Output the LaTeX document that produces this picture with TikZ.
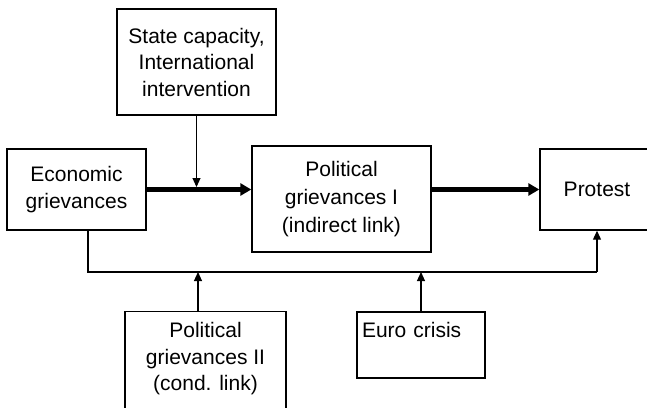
\documentclass[tikz,border=0pt]{standalone}
\usepackage{fontspec}
\setmainfont{Liberation Sans}
\usepackage{tikz}
\usetikzlibrary{arrows.meta, positioning, calc}

\begin{document}
\begin{tikzpicture}[
    x=1pt, y=-1pt,
    box/.style={draw, rectangle, line width=1.4pt, inner sep=5pt, align=center,
      font=\fontsize{21}{26.5}\selectfont},
    mainarrow/.style={line width=4.5pt, -{Triangle[length=11pt,width=12pt]}},
    thinarrow/.style={line width=1.1pt, -{Triangle[length=9pt,width=8pt]}},
    thinline/.style={line width=1.1pt}
]
\useasboundingbox (0,0) rectangle (647,407);
\clip (0,0) rectangle (647,407);

\node[box, minimum width=159pt, minimum height=106pt] (state) at (196.5,62)
  {State capacity,\\International\\intervention};
\node[box, minimum width=139pt, minimum height=81pt] (econ) at (76.5,189.5)
  {Economic\\grievances};
\node[box, minimum width=179pt, minimum height=106pt, font=\fontsize{21}{28}\selectfont]
  (pol1) at (341.5,199) {Political\\grievances I\\(indirect link)};
\node[box, minimum width=114pt, minimum height=81pt] (protest) at (597,189.5) {Protest};
\node[box, minimum width=161pt, anchor=north, text height=74pt, text depth=40pt] (pol2)
  at (205.5,311) {Political\\grievances II\\(cond. link)};
\node[box, text width=118pt, align=left, text height=20pt, text depth=36pt] (euro)
  at (421,345) {Euro crisis};

% main path
\draw[mainarrow] (econ.east) -- (econ.east -| pol1.west);
\draw[mainarrow] (pol1.east |- protest.west) -- (protest.west);
\coordinate (mid) at (state.south |- econ.east);
\draw[thinarrow, shorten >=2.5pt] (state.south) -- (mid);

% conditional links
\coordinate (busl) at ([xshift=11.5pt]econ.south |- 0,272);
\coordinate (busr) at (protest.south |- 0,272);
\draw[thinline] ([xshift=11.5pt]econ.south) -- (busl) -- (busr);
\draw[thinarrow] (busr) -- (protest.south);
\draw[thinarrow] ([xshift=-7.5pt]pol2.north) -- ([xshift=-7.5pt]pol2.north |- busl);
\draw[thinarrow] (euro.north) -- (euro.north |- busl);
\end{tikzpicture}
\end{document}
